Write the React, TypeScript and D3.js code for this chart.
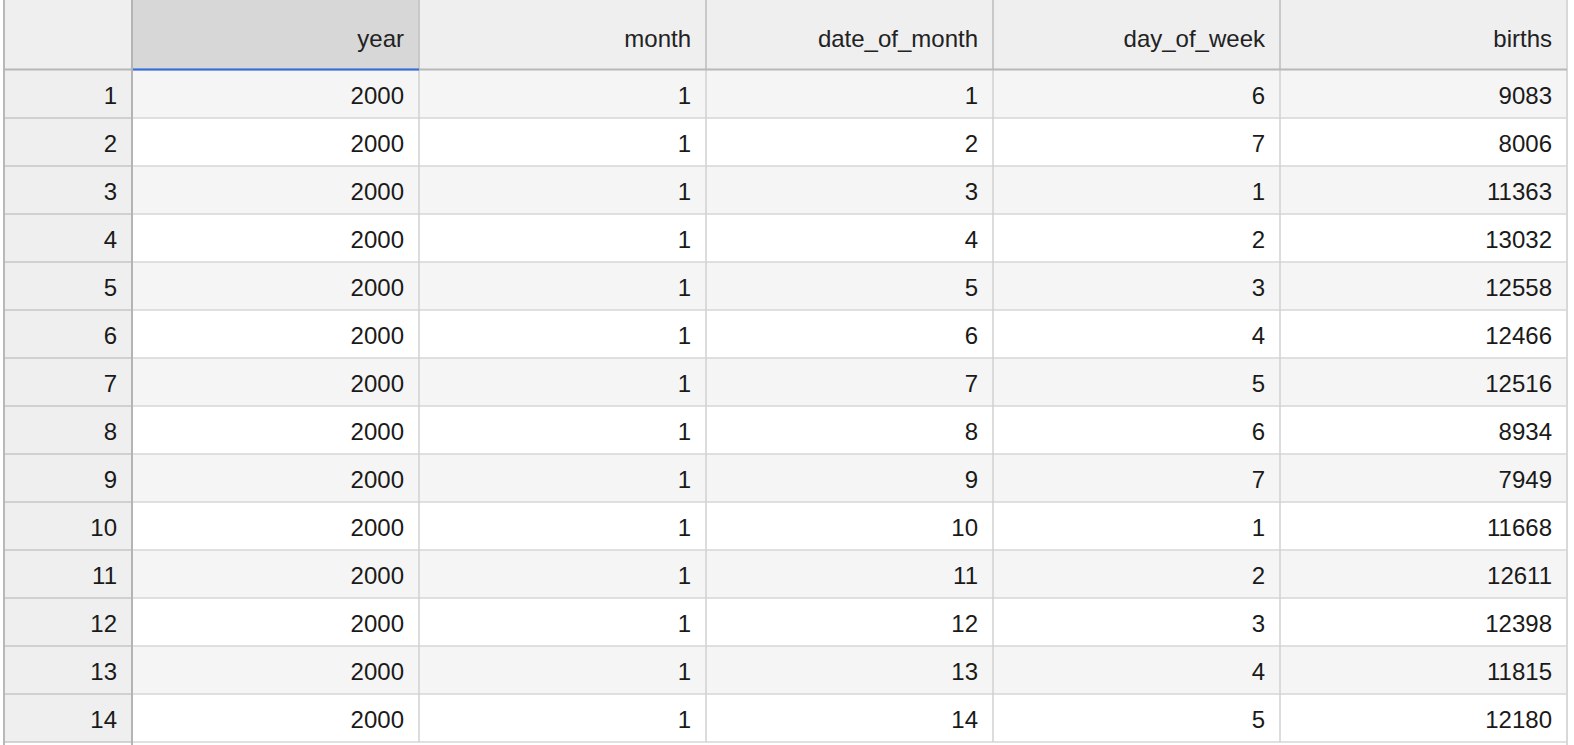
import React from 'react';
import * as d3 from 'd3';

// Table contents
const columns = ['year', 'month', 'date_of_month', 'day_of_week', 'births'];
const rowIds = [1, 2, 3, 4, 5, 6, 7, 8, 9, 10, 11, 12, 13, 14];
const years = [2000, 2000, 2000, 2000, 2000, 2000, 2000, 2000, 2000, 2000, 2000, 2000, 2000, 2000];
const months = [1, 1, 1, 1, 1, 1, 1, 1, 1, 1, 1, 1, 1, 1];
const datesOfMonth = [1, 2, 3, 4, 5, 6, 7, 8, 9, 10, 11, 12, 13, 14];
const daysOfWeek = [6, 7, 1, 2, 3, 4, 5, 6, 7, 1, 2, 3, 4, 5];
const births = [9083, 8006, 11363, 13032, 12558, 12466, 12516, 8934, 7949, 11668, 12611, 12398, 11815, 12180];

const W = 1574;
const H = 745;

const App: React.FC = () => {
  const colValues = [years, months, datesOfMonth, daysOfWeek, births];

  const left = 4;
  const indexRight = 132;
  const right = 1567;
  const headerBottom = 70;
  const rowH = 48;

  const x = d3.scaleLinear().domain([0, columns.length]).range([indexRight, right]);
  const y = d3
    .scaleLinear()
    .domain([0, rowIds.length])
    .range([headerBottom, headerBottom + rowH * rowIds.length]);

  const font = 'Liberation Sans, Arial, Helvetica, sans-serif';
  const fs = 24;
  const pad = 15;

  return (
    <svg
      width={W}
      height={H}
      style={{ position: 'absolute', left: 0, top: 0, background: '#fff' }}
      fontFamily={font}
    >
      {/* header background */}
      <rect x={left} y={0} width={right - left} height={headerBottom} fill="#efefef" />
      <rect x={x(0)} y={0} width={x(1) - x(0)} height={headerBottom} fill="#d7d7d7" />

      {/* body rows */}
      {rowIds.map((id, i) => (
        <g key={id}>
          <rect
            x={indexRight}
            y={y(i)}
            width={right - indexRight}
            height={rowH}
            fill={i % 2 === 0 ? '#f5f5f5' : '#ffffff'}
          />
          <rect x={left} y={y(i)} width={indexRight - left} height={rowH} fill="#efefef" />
        </g>
      ))}

      {/* horizontal row lines */}
      {rowIds.map((id, i) => (
        <g key={`h${id}`}>
          <line x1={left} x2={indexRight} y1={y(i + 1)} y2={y(i + 1)} stroke="#c6c6c6" strokeWidth={1.5} />
          <line x1={indexRight} x2={right} y1={y(i + 1)} y2={y(i + 1)} stroke="#d6d6d6" strokeWidth={1.5} />
        </g>
      ))}

      {/* vertical column lines */}
      {columns.map((c, j) =>
        j === 0 ? null : (
          <line key={`v${c}`} x1={x(j)} x2={x(j)} y1={0} y2={y(rowIds.length)} stroke="#d0d0d0" strokeWidth={1.5} />
        )
      )}
      {columns.map((c, j) =>
        j === 0 ? null : (
          <line key={`vh${c}`} x1={x(j)} x2={x(j)} y1={0} y2={headerBottom} stroke="#c4c4c4" strokeWidth={1.5} />
        )
      )}
      <line x1={right} x2={right} y1={0} y2={H} stroke="#d8d8d8" strokeWidth={2} />

      {/* header bottom and index column border */}
      <line x1={left} x2={right} y1={headerBottom - 0.5} y2={headerBottom - 0.5} stroke="#b8b8b8" strokeWidth={2} />
      <line x1={x(0)} x2={x(1)} y1={headerBottom - 0.5} y2={headerBottom - 0.5} stroke="#2f6fdf" strokeWidth={2} />
      <line x1={indexRight} x2={indexRight} y1={0} y2={H} stroke="#b4b4b4" strokeWidth={2} />
      <line x1={left} x2={left} y1={0} y2={H} stroke="#b8b8b8" strokeWidth={2} />

      {/* header labels */}
      {columns.map((c, j) => (
        <text
          key={`t${c}`}
          x={x(j + 1) - pad}
          y={47}
          textAnchor="end"
          fontSize={fs}
          fill="#222"
        >
          {c}
        </text>
      ))}

      {/* index labels */}
      {rowIds.map((id, i) => (
        <text key={`i${id}`} x={indexRight - pad} y={y(i) + rowH / 2 + 10} textAnchor="end" fontSize={fs} fill="#1a1a1a">
          {id}
        </text>
      ))}

      {/* cell values */}
      {colValues.map((vals, j) =>
        vals.map((v, i) => (
          <text
            key={`c${j}-${i}`}
            x={x(j + 1) - pad}
            y={y(i) + rowH / 2 + 10}
            textAnchor="end"
            fontSize={fs}
            fill="#1a1a1a"
          >
            {v}
          </text>
        ))
      )}
    </svg>
  );
};

export default App;
